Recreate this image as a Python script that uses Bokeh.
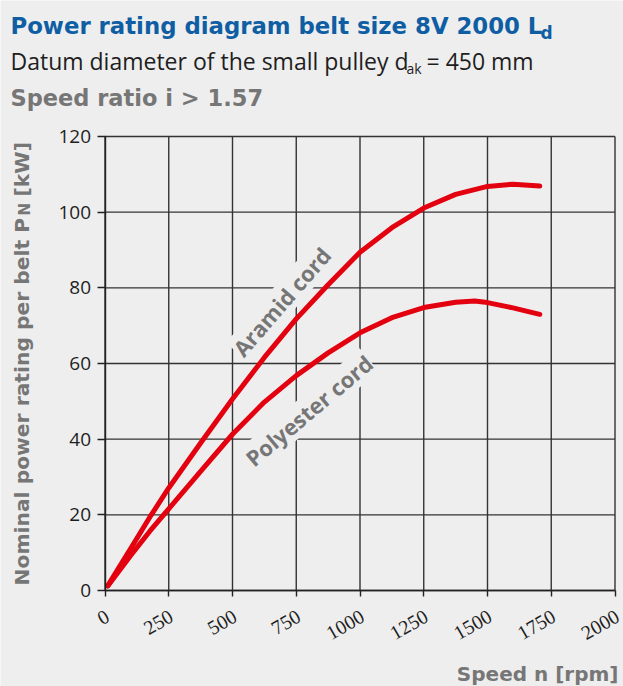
import math
from bokeh.plotting import figure
from bokeh.models import Range1d, Label, LabelSet, FixedTicker, ColumnDataSource
from bokeh.embed import file_html
from bokeh.resources import INLINE

# ---- data ----
aramid_rpm = [11, 100, 175, 250, 375, 500, 625, 750, 875, 1000, 1125, 1250, 1375, 1500, 1600, 1705]
aramid_kw = [1.3, 11.0, 19.3, 27.1, 39.0, 50.6, 61.6, 71.8, 80.8, 89.4, 95.9, 101.1, 104.7, 106.8, 107.4, 106.9]
polyester_rpm = [11, 100, 175, 250, 375, 500, 625, 750, 875, 1000, 1125, 1250, 1375, 1450, 1500, 1600, 1705]
polyester_kw = [1.2, 9.2, 15.6, 21.6, 31.5, 41.3, 49.8, 56.8, 62.8, 68.1, 72.1, 74.8, 76.2, 76.5, 76.1, 74.7, 73.0]
x_ticks = [0, 250, 500, 750, 1000, 1250, 1500, 1750, 2000]
x_tick_labels = ["0", "250", "500", "750", "1000", "1250", "1500", "1750", "2000"]
y_ticks = [0, 20, 40, 60, 80, 100, 120]

W, H = 623, 686
# page-pixel geometry of the chart area
PX0, PX1 = 104.5, 614.5   # x = 0 .. 2000
PY0, PY1 = 590.0, 136.0   # y = 0 .. 120
XMIN, XMAX = x_ticks[0], x_ticks[-1]
YMIN, YMAX = y_ticks[0], y_ticks[-1]
sx_ = (XMAX - XMIN) / (PX1 - PX0)
sy_ = (YMAX - YMIN) / (PY0 - PY1)
x_range = Range1d(XMIN - PX0 * sx_, XMIN + (W - PX0) * sx_)
y_range = Range1d(YMIN - (H - PY0) * sy_, YMIN + PY0 * sy_)

BG = "#eeeeee"
RED = "#e3000f"
GRAY = "#767676"
BLUE = "#0f5ea4"
DARK = "#1e1e1e"
GRID = "#333333"
FONT = "Open Sans"
BFONT = "DejaVu Sans"

p = figure(width=W, height=H, output_backend="svg", toolbar_location=None,
           x_range=x_range, y_range=y_range,
           min_border_left=0, min_border_right=0, min_border_top=0, min_border_bottom=0)
p.background_fill_color = BG
p.border_fill_color = BG
p.outline_line_color = None
p.grid.visible = False

# grid lines inside the chart area
p.segment(x0=x_ticks, y0=[YMIN] * len(x_ticks), x1=x_ticks, y1=[YMAX] * len(x_ticks),
          line_color=GRID, line_width=1.4, level="underlay")
p.segment(x0=[XMIN] * len(y_ticks), y0=y_ticks, x1=[XMAX] * len(y_ticks), y1=y_ticks,
          line_color=GRID, line_width=1.4, level="underlay")

# axes placed at the chart origin
for ax in (p.xaxis[0], p.yaxis[0]):
    ax.fixed_location = 0
    ax.axis_line_color = "#222222"
    ax.axis_line_width = 1.4
    ax.major_tick_line_color = "#222222"
    ax.major_tick_line_width = 1.4
    ax.major_tick_in = 0
    ax.minor_tick_line_color = None
    ax.major_label_text_font = FONT
    ax.major_label_text_font_size = "19px"
    ax.major_label_text_color = DARK
p.xaxis.ticker = FixedTicker(ticks=x_ticks)
p.yaxis.ticker = FixedTicker(ticks=y_ticks)
p.xaxis.bounds = (XMIN, XMAX)
p.yaxis.bounds = (YMIN, YMAX)
p.yaxis.major_tick_out = 8
p.xaxis.major_tick_out = 6
p.yaxis.major_label_standoff = 6
p.xaxis.major_label_text_color = None

# rotated x tick labels
src = ColumnDataSource(data=dict(x=x_ticks, t=x_tick_labels))
p.add_layout(LabelSet(x="x", y=H - 620, text="t", source=src, y_units="screen", x_offset=6,
                      angle=30, angle_units="deg", text_align="right",
                      text_baseline="alphabetic", text_font=FONT,
                      text_font_size="20px", text_color=DARK))

p.line(aramid_rpm, aramid_kw, line_color=RED, line_width=5, line_cap="round", line_join="round")
p.line(polyester_rpm, polyester_kw, line_color=RED, line_width=5, line_cap="round", line_join="round")

# curve labels (with background boxes that break the grid)
p.add_layout(Label(x=692, y=76.4, text="Aramid cord", angle=49, angle_units="deg",
                   text_align="center", text_baseline="middle", text_font=FONT,
                   text_font_style="bold", text_font_size="22px", text_color=GRAY,
                   background_fill_color=BG, padding=0))
p.add_layout(Label(x=799, y=47.6, text="Polyester cord", angle=40, angle_units="deg",
                   text_align="center", text_baseline="middle", text_font=FONT,
                   text_font_style="bold", text_font_size="22px", text_color=GRAY,
                   background_fill_color=BG, padding=0))


def txt(s, px, py, size, color, font=FONT, style="normal", angle=0, align="left"):
    # px, py: page pixel position of the text baseline (top-left origin)
    # Label places the box slightly below the requested baseline; compensate.
    shift = 0.39 * size
    a = math.radians(angle)
    bx, by = px - shift * math.sin(a), py - shift * math.cos(a)
    p.add_layout(Label(x=bx, y=H - by, x_units="screen", y_units="screen",
                       text=s, text_font=font, text_font_size=f"{size}px",
                       text_font_style=style, text_color=color, angle=angle,
                       angle_units="deg", text_align=align, text_baseline="alphabetic"))


# header
txt("Power rating diagram belt size 8V 2000 L", 10, 34, 22.8, BLUE, BFONT, "bold")
txt("d", 540, 39, 17, BLUE, BFONT, "bold")
txt("Datum diameter of the small pulley d", 10, 69, 23, DARK)
txt("ak", 406, 73, 14, DARK)
txt("= 450 mm", 426, 69, 23, DARK)
txt("Speed ratio i > 1.57", 10, 106, 22.5, GRAY, BFONT, "bold")

# y axis title
txt("Nominal power rating per belt P", 29, 585, 20.3, GRAY, BFONT, "bold", angle=90)
txt("N", 30, 215, 15, GRAY, BFONT, "bold", angle=90)
txt("[kW]", 29, 196, 20.3, GRAY, BFONT, "bold", angle=90)

# x axis title
txt("Speed n [rpm]", 618, 681, 20, GRAY, BFONT, "bold", align="right")

open("out.html", "w").write(file_html(p, INLINE))
